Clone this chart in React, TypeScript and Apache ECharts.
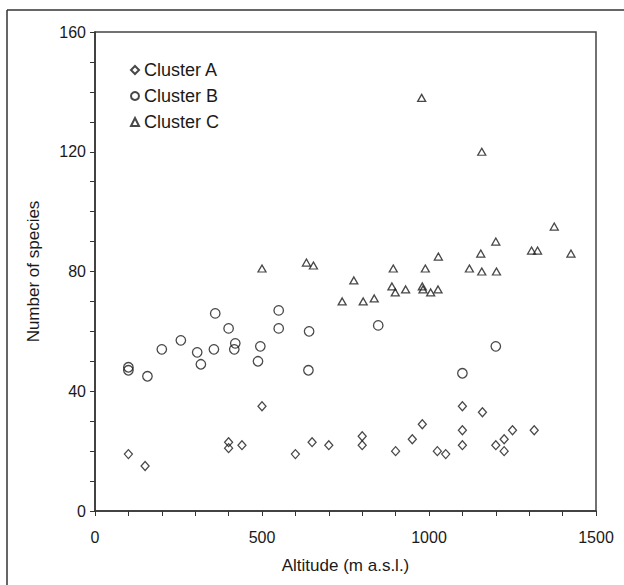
import React, { useEffect, useRef } from "react";
import * as echarts from "echarts";

const clusterA: [number, number][] = [
  [100, 19], [150, 15], [400, 23], [400, 21], [440, 22], [500, 35], [600, 19],
  [650, 23], [700, 22], [800, 25], [800, 22], [900, 20], [950, 24], [980, 29],
  [1025, 20], [1050, 19], [1100, 35], [1100, 27], [1100, 22], [1160, 33],
  [1200, 22], [1225, 24], [1225, 20], [1250, 27], [1315, 27],
];

const clusterB: [number, number][] = [
  [100, 48], [100, 47], [157, 45], [200, 54], [257, 57], [306, 53], [317, 49],
  [356, 54], [360, 66], [400, 61], [420, 56], [417, 54], [495, 55], [488, 50],
  [550, 67], [550, 61], [641, 60], [639, 47], [848, 62], [1100, 46], [1200, 55],
];

const clusterC: [number, number][] = [
  [500, 81], [633, 83], [654, 82], [740, 70], [775, 77], [803, 70], [836, 71],
  [893, 81], [889, 75], [899, 73], [930, 74], [980, 75], [982, 74], [989, 81],
  [1005, 73], [1027, 74], [1028, 85], [978, 138], [1121, 81], [1158, 120],
  [1155, 86], [1158, 80], [1200, 90], [1202, 80], [1307, 87], [1325, 87],
  [1375, 95], [1425, 86],
];

const seriesNames = ["Cluster A", "Cluster B", "Cluster C"];
const xTitle = "Altitude (m a.s.l.)";
const yTitle = "Number of species";

const FONT = "Liberation Sans, Arial, sans-serif";
const INK = "#1a1a1a";

export default function App() {
  const ref = useRef<HTMLDivElement>(null);

  useEffect(() => {
    if (!ref.current) return;
    const chart = echarts.init(ref.current, undefined, { renderer: "svg" });
    const pointStyle = {
      color: "transparent",
      borderColor: INK,
      borderWidth: 1.3,
    };
    chart.setOption({
      animation: false,
      backgroundColor: "#fff",
      textStyle: { fontFamily: FONT, color: INK },
      grid: {
        left: 95,
        top: 32,
        right: 28,
        bottom: 74,
        show: true,
        borderColor: "#444",
        borderWidth: 1.5,
      },
      legend: {
        orient: "vertical",
        left: 125,
        top: 55,
        itemWidth: 8,
        itemHeight: 8,
        itemGap: 6,
        data: seriesNames,
        textStyle: { fontSize: 18, color: INK, fontFamily: FONT, lineHeight: 20 },
      },
      xAxis: {
        type: "value",
        min: 0,
        max: 1500,
        interval: 100,
        name: xTitle,
        nameLocation: "middle",
        nameGap: 46,
        nameTextStyle: { fontSize: 17, color: INK, fontFamily: FONT },
        axisLine: { lineStyle: { color: "#333", width: 1.5 } },
        axisTick: { show: true, length: 5, lineStyle: { color: "#333" } },
        axisLabel: {
          fontSize: 16,
          color: INK,
          margin: 18,
          formatter: (v: number) => (v % 500 === 0 ? String(v) : ""),
        },
        splitLine: { show: false },
      },
      yAxis: {
        type: "value",
        min: 0,
        max: 160,
        interval: 10,
        name: yTitle,
        nameLocation: "middle",
        nameGap: 53,
        nameTextStyle: { fontSize: 17, color: INK, fontFamily: FONT },
        axisLine: { show: true, lineStyle: { color: "#333", width: 1.5 } },
        axisTick: { show: true, length: 5, lineStyle: { color: "#333" } },
        axisLabel: {
          fontSize: 16,
          color: INK,
          margin: 9,
          formatter: (v: number) => (v % 40 === 0 ? String(v) : ""),
        },
        splitLine: { show: false },
      },
      graphic: [
        {
          type: "line",
          shape: { x1: 7, y1: 10, x2: 624, y2: 10 },
          style: { stroke: "#333", lineWidth: 1.5 },
        },
        {
          type: "line",
          shape: { x1: 7, y1: 10, x2: 7, y2: 585 },
          style: { stroke: "#333", lineWidth: 1.5 },
        },
      ],
      series: [
        {
          name: seriesNames[0],
          type: "scatter",
          data: clusterA,
          symbol: "diamond",
          symbolSize: [8, 9],
          itemStyle: pointStyle,
        },
        {
          name: seriesNames[1],
          type: "scatter",
          data: clusterB,
          symbol: "circle",
          symbolSize: 9.5,
          itemStyle: pointStyle,
        },
        {
          name: seriesNames[2],
          type: "scatter",
          data: clusterC,
          symbol: "triangle",
          symbolSize: [8, 7],
          itemStyle: pointStyle,
        },
      ],
    });
    return () => chart.dispose();
  }, []);

  return (
    <div
      ref={ref}
      style={{ position: "absolute", left: 0, top: 0, width: 624, height: 585 }}
    />
  );
}
